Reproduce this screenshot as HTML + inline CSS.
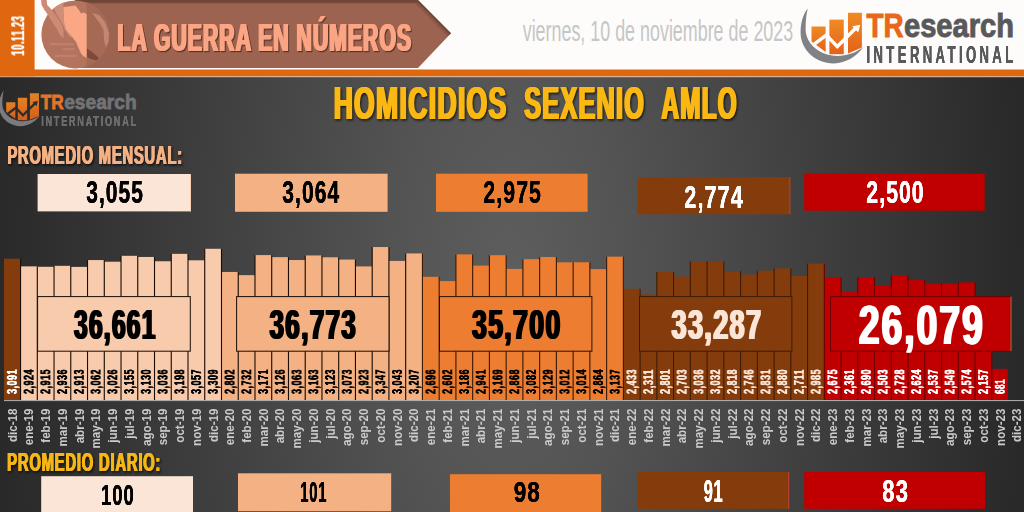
<!DOCTYPE html>
<html lang="es"><head><meta charset="utf-8"><title>Homicidios Sexenio AMLO</title>
<style>
html,body{margin:0;padding:0;background:#2b2b2b;}
body{width:1024px;height:512px;overflow:hidden;font-family:"Liberation Sans",sans-serif;}
svg{display:block}
</style></head><body>
<svg width="1024" height="512" viewBox="0 0 1024 512">
<defs>
<radialGradient id="bg" gradientUnits="userSpaceOnUse" cx="510" cy="290" r="560" gradientTransform="translate(510 290) scale(1 2.2) translate(-510 -290)">
<stop offset="0" stop-color="#5e5e5f"/><stop offset="0.2" stop-color="#545454"/><stop offset="0.55" stop-color="#3f3f3f"/><stop offset="0.92" stop-color="#292929"/><stop offset="1" stop-color="#242424"/>
</radialGradient>
<linearGradient id="og" x1="0" y1="0" x2="0" y2="1"><stop offset="0" stop-color="#f08a24"/><stop offset="1" stop-color="#e4611a"/></linearGradient>
<linearGradient id="bsh" x1="0" y1="0" x2="0" y2="1"><stop offset="0" stop-color="#5e3a2e"/><stop offset="1" stop-color="#5e3a2e" stop-opacity="0"/></linearGradient>
<clipPath id="cc"><circle cx="75.4" cy="34.4" r="34"/></clipPath>
<g id="logo">
<path d="M807.75 8.4 C802.5 15 800.6 24 800.6 32.75 C800.6 49.7 815.45 63.4 833.75 63.4 C846 63.4 857 56.5 863.1 47.1 C856 53 847 55.9 837.5 55.9 C819.9 55.9 805.6 43.85 805.6 29 C805.6 21 806.3 14 807.75 8.4 Z" fill="#808285"/>
<path d="M811.5 26.5 H825.6 V52 L811.5 41.5 Z" fill="url(#og)"/>
<path d="M829.4 19.6 H843.75 V54.2 H829.4 Z" fill="url(#og)"/>
<path d="M848 12.75 H861.9 V47.5 L848 53.6 Z" fill="url(#og)"/>
<path d="M812.6 45.4 L826.3 35 L837.3 46.6 L856.2 27.8" fill="none" stroke="currentColor" stroke-width="3.5" stroke-linejoin="miter"/>
<path d="M852.2 26.2 L860.2 24.8 L858.2 32.6 Z" fill="currentColor"/>
</g>
<filter id="f0" x="-10%" y="-30%" width="120%" height="170%" color-interpolation-filters="sRGB"><feOffset in="SourceGraphic" dx="-0.55" result="a"/><feOffset in="SourceGraphic" dx="0.55" result="b"/><feMerge result="m"><feMergeNode in="a"/><feMergeNode in="b"/><feMergeNode in="SourceGraphic"/></feMerge><feDropShadow in="m" dx="1" dy="1.2" stdDeviation="0.6" flood-color="#4a2a20" flood-opacity="0.8"/></filter>
<filter id="f1" x="-10%" y="-30%" width="120%" height="170%" color-interpolation-filters="sRGB"><feOffset in="SourceGraphic" dx="-0.45" result="a"/><feOffset in="SourceGraphic" dx="0.45" result="b"/><feMerge result="m"><feMergeNode in="a"/><feMergeNode in="b"/><feMergeNode in="SourceGraphic"/></feMerge></filter>
<filter id="f2" x="-10%" y="-30%" width="120%" height="170%" color-interpolation-filters="sRGB"><feOffset in="SourceGraphic" dx="-0.25" result="a"/><feOffset in="SourceGraphic" dx="0.25" result="b"/><feMerge result="m"><feMergeNode in="a"/><feMergeNode in="b"/><feMergeNode in="SourceGraphic"/></feMerge></filter>
<filter id="f3" x="-10%" y="-30%" width="120%" height="170%" color-interpolation-filters="sRGB"><feOffset in="SourceGraphic" dx="-0.2" result="a"/><feOffset in="SourceGraphic" dx="0.2" result="b"/><feMerge result="m"><feMergeNode in="a"/><feMergeNode in="b"/><feMergeNode in="SourceGraphic"/></feMerge></filter>
<filter id="f4" x="-10%" y="-30%" width="120%" height="170%" color-interpolation-filters="sRGB"><feOffset in="SourceGraphic" dx="-1.0" result="a"/><feOffset in="SourceGraphic" dx="1.0" result="b"/><feMerge result="m"><feMergeNode in="a"/><feMergeNode in="b"/><feMergeNode in="SourceGraphic"/></feMerge><feDropShadow in="m" dx="1" dy="1.5" stdDeviation="0.9" flood-color="#000" flood-opacity="0.7"/></filter>
<filter id="f5" x="-10%" y="-30%" width="120%" height="170%" color-interpolation-filters="sRGB"><feOffset in="SourceGraphic" dx="-0.5" result="a"/><feOffset in="SourceGraphic" dx="0.5" result="b"/><feMerge result="m"><feMergeNode in="a"/><feMergeNode in="b"/><feMergeNode in="SourceGraphic"/></feMerge><feDropShadow in="m" dx="1" dy="1.5" stdDeviation="0.9" flood-color="#000" flood-opacity="0.7"/></filter>
<filter id="f6" x="-10%" y="-30%" width="120%" height="170%" color-interpolation-filters="sRGB"><feOffset in="SourceGraphic" dx="-0.35" result="a"/><feOffset in="SourceGraphic" dx="0.35" result="b"/><feMerge result="m"><feMergeNode in="a"/><feMergeNode in="b"/><feMergeNode in="SourceGraphic"/></feMerge></filter>
<filter id="f7" x="-10%" y="-30%" width="120%" height="170%" color-interpolation-filters="sRGB"><feOffset in="SourceGraphic" dx="-0.64" result="a"/><feOffset in="SourceGraphic" dx="0.64" result="b"/><feMerge result="m"><feMergeNode in="a"/><feMergeNode in="b"/><feMergeNode in="SourceGraphic"/></feMerge></filter>
<filter id="f8" x="-10%" y="-30%" width="120%" height="170%" color-interpolation-filters="sRGB"><feOffset in="SourceGraphic" dx="-0.66" result="a"/><feOffset in="SourceGraphic" dx="0.66" result="b"/><feMerge result="m"><feMergeNode in="a"/><feMergeNode in="b"/><feMergeNode in="SourceGraphic"/></feMerge></filter>
<filter id="f9" x="-10%" y="-30%" width="120%" height="170%" color-interpolation-filters="sRGB"><feOffset in="SourceGraphic" dx="-0.85" result="a"/><feOffset in="SourceGraphic" dx="0.85" result="b"/><feMerge result="m"><feMergeNode in="a"/><feMergeNode in="b"/><feMergeNode in="SourceGraphic"/></feMerge></filter>
<filter id="f10" x="-10%" y="-30%" width="120%" height="170%" color-interpolation-filters="sRGB"><feOffset in="SourceGraphic" dx="-0.47" result="a"/><feOffset in="SourceGraphic" dx="0.47" result="b"/><feMerge result="m"><feMergeNode in="a"/><feMergeNode in="b"/><feMergeNode in="SourceGraphic"/></feMerge></filter>
<filter id="f11" x="-10%" y="-30%" width="120%" height="170%" color-interpolation-filters="sRGB"><feOffset in="SourceGraphic" dx="-0.48" result="a"/><feOffset in="SourceGraphic" dx="0.48" result="b"/><feMerge result="m"><feMergeNode in="a"/><feMergeNode in="b"/><feMergeNode in="SourceGraphic"/></feMerge></filter>
<filter id="f12" x="-10%" y="-30%" width="120%" height="170%" color-interpolation-filters="sRGB"><feOffset in="SourceGraphic" dx="-0.49" result="a"/><feOffset in="SourceGraphic" dx="0.49" result="b"/><feMerge result="m"><feMergeNode in="a"/><feMergeNode in="b"/><feMergeNode in="SourceGraphic"/></feMerge></filter>
<filter id="f13" x="-10%" y="-30%" width="120%" height="170%" color-interpolation-filters="sRGB"><feOffset in="SourceGraphic" dx="-0.46" result="a"/><feOffset in="SourceGraphic" dx="0.46" result="b"/><feMerge result="m"><feMergeNode in="a"/><feMergeNode in="b"/><feMergeNode in="SourceGraphic"/></feMerge></filter>
</defs>
<rect x="0" y="0" width="1024" height="512" fill="url(#bg)"/>
<rect x="0" y="0" width="1024" height="70" fill="#fdfcfb"/>
<rect x="0" y="69.5" width="1024" height="6.8" fill="#df6710"/>
<rect x="0" y="76.2" width="1024" height="1" fill="#f3c9a6"/>
<rect x="0" y="0" width="34.6" height="76.3" fill="#df6710"/>
<path d="M75 0 H418 L451 33.3 L418 68 H75 Z" fill="#9c6350"/>
<path d="M75 0 H418 L451 33.3 L449.6 34.8 L417.2 1.9 H75 Z" fill="#6a4335" opacity="0.9"/>
<rect x="75" y="1.8" width="342.6" height="2.6" fill="url(#bsh)" opacity="0.7"/>
<path d="M417.2 1.9 L449.6 34.8 L447.6 36.6 L416 4.4 Z" fill="#6a4335" opacity="0.35"/>
<circle cx="75.4" cy="34.4" r="34" fill="#b4735d"/>
<g clip-path="url(#cc)">
<path d="M86.6 0 H112 V70 H86.6 Z" fill="#a26752" opacity="0.75"/>
<path d="M92 13 L99 15 L105 22 L109 33 L108.5 42 L105.8 47 L104 40 L103.5 30 L99 22 Z" fill="#c58671"/>
<path d="M50 43 H74 V45.3 H50 Z M62.7 48 H75 V50.2 H62.7 Z M55 54.8 H76.8 V57 H55 Z" fill="#bf806b"/>
<path d="M54 3 L63.4 1.5 L63.6 15 L64 20 L65.5 25 L68 31 L72 37 L70 37 L65 30 L63 25 L60 20 L57 15 L54.5 10 L52 5 Z" fill="#cf8e77"/>
<path d="M63.4 7 L70 6.2 L75.4 5.6 L78.5 9.5 L81 13.4 L83.5 12.6 L86.6 14 V57.7 L83.5 56.3 L81 53.4 L78.3 47.5 L76 42 L71 35.5 L66 29.5 L64 22 Z" fill="#f9a785"/>
<path d="M87 48.5 L92 52 L99 58 L96.5 60.6 L91 59 L87 57.2 Z" fill="#7d4938"/>
<rect x="82" y="0" width="40" height="1.8" fill="#6a4335" opacity="0.8"/>
</g>
<path d="M41 -1 L46.5 -1 L47.2 5 L52 10 L55.7 15 L59 20 L62 25 L63.5 30 L63.6 38 L60 35 L57.5 30 L54.3 25 L51 20 L48 15 L44.5 10 L41.6 5 Z" fill="#cd8b75"/>
<text x="117.53" y="51.40" font-family="Liberation Sans, sans-serif" font-weight="bold" font-size="39.14" letter-spacing="1.96" textLength="294.62" lengthAdjust="spacingAndGlyphs" fill="#fba584" filter="url(#f0)">LA GUERRA EN NÚMEROS</text>
<g transform="translate(24.2 55.6) rotate(-90)"><text x="0.05" y="0.00" font-family="Liberation Sans, sans-serif" font-weight="bold" font-size="18.86" letter-spacing="0.94" textLength="39.81" lengthAdjust="spacingAndGlyphs" fill="#fff" filter="url(#f1)">10.11.23</text></g>
<text x="522.70" y="40.80" font-family="Liberation Sans, sans-serif" font-weight="normal" font-size="29.14" textLength="270.50" lengthAdjust="spacingAndGlyphs" fill="#c6c6c6">viernes, 10 de noviembre de 2023</text>
<use href="#logo" color="#fff"/>
<text x="866.50" y="36.60" font-family="Liberation Sans, sans-serif" font-weight="bold" font-size="32.29" textLength="37.10" lengthAdjust="spacingAndGlyphs" fill="#e8671c" stroke="#e8671c" stroke-width="0.9">TR</text>
<text x="904.00" y="36.60" font-family="Liberation Sans, sans-serif" font-weight="bold" font-size="32.29" textLength="110.00" lengthAdjust="spacingAndGlyphs" fill="#59595b" stroke="#59595b" stroke-width="0.9">esearch</text>
<text transform="translate(866.45 63.40) scale(0.56 1)" font-family="Liberation Sans, sans-serif" font-weight="bold" font-size="23.43" letter-spacing="6.06" fill="#59595b" filter="url(#f2)">INTERNATIONAL</text>
<g transform="translate(-521.3 85.0) scale(0.65)" opacity="0.93"><use href="#logo" color="#2e2e2e"/></g>
<text x="40.80" y="109.10" font-family="Liberation Sans, sans-serif" font-weight="bold" font-size="21.00" textLength="23.00" lengthAdjust="spacingAndGlyphs" fill="#e3752a" stroke="#e3752a" stroke-width="0.8">TR</text>
<text x="64.20" y="109.10" font-family="Liberation Sans, sans-serif" font-weight="bold" font-size="21.00" textLength="72.40" lengthAdjust="spacingAndGlyphs" fill="#727375" stroke="#727375" stroke-width="0.8">esearch</text>
<text transform="translate(41.20 126.40) scale(0.62 1)" font-family="Liberation Sans, sans-serif" font-weight="bold" font-size="14.71" letter-spacing="2.85" fill="#6c6d6f" filter="url(#f3)">INTERNATIONAL</text>
<text x="333.64" y="119.00" font-family="Liberation Sans, sans-serif" font-weight="bold" font-size="45.71" letter-spacing="2.29" textLength="173.98" lengthAdjust="spacingAndGlyphs" fill="#fbb813" filter="url(#f4)">HOMICIDIOS</text>
<text x="524.24" y="119.00" font-family="Liberation Sans, sans-serif" font-weight="bold" font-size="45.71" letter-spacing="2.29" textLength="120.98" lengthAdjust="spacingAndGlyphs" fill="#fbb813" filter="url(#f4)">SEXENIO</text>
<text x="661.44" y="119.00" font-family="Liberation Sans, sans-serif" font-weight="bold" font-size="45.71" letter-spacing="2.29" textLength="76.38" lengthAdjust="spacingAndGlyphs" fill="#fbb813" filter="url(#f4)">AMLO</text>
<text x="6.94" y="163.80" font-family="Liberation Sans, sans-serif" font-weight="bold" font-size="26.57" letter-spacing="1.33" textLength="175.45" lengthAdjust="spacingAndGlyphs" fill="#f4b183" filter="url(#f5)">PROMEDIO MENSUAL:</text>
<text x="6.75" y="471.40" font-family="Liberation Sans, sans-serif" font-weight="bold" font-size="26.29" letter-spacing="1.31" textLength="154.03" lengthAdjust="spacingAndGlyphs" fill="#f5b618" filter="url(#f5)">PROMEDIO DIARIO:</text>
<rect x="4.00" y="258.74" width="16.55" height="141.26" fill="#843c0c"/>
<rect x="20.55" y="266.37" width="16.75" height="133.63" fill="#f8cbad"/>
<rect x="37.29" y="266.78" width="16.74" height="133.22" fill="#f8cbad"/>
<rect x="54.03" y="265.82" width="16.75" height="134.18" fill="#f8cbad"/>
<rect x="70.78" y="266.88" width="16.75" height="133.12" fill="#f8cbad"/>
<rect x="87.53" y="260.07" width="16.75" height="139.93" fill="#f8cbad"/>
<rect x="104.27" y="261.71" width="16.75" height="138.29" fill="#f8cbad"/>
<rect x="121.02" y="255.82" width="16.74" height="144.18" fill="#f8cbad"/>
<rect x="137.76" y="256.96" width="16.75" height="143.04" fill="#f8cbad"/>
<rect x="154.51" y="261.25" width="16.75" height="138.75" fill="#f8cbad"/>
<rect x="171.25" y="253.85" width="16.75" height="146.15" fill="#f8cbad"/>
<rect x="188.00" y="260.30" width="16.75" height="139.70" fill="#f8cbad"/>
<rect x="204.74" y="248.78" width="16.75" height="151.22" fill="#f8cbad"/>
<rect x="221.49" y="271.95" width="16.75" height="128.05" fill="#f4b183"/>
<rect x="238.23" y="275.15" width="16.75" height="124.85" fill="#f4b183"/>
<rect x="254.98" y="255.09" width="16.75" height="144.91" fill="#f4b183"/>
<rect x="271.72" y="257.14" width="16.75" height="142.86" fill="#f4b183"/>
<rect x="288.47" y="260.02" width="16.75" height="139.98" fill="#f4b183"/>
<rect x="305.21" y="255.45" width="16.75" height="144.55" fill="#f4b183"/>
<rect x="321.96" y="257.28" width="16.75" height="142.72" fill="#f4b183"/>
<rect x="338.70" y="259.56" width="16.75" height="140.44" fill="#f4b183"/>
<rect x="355.45" y="266.42" width="16.75" height="133.58" fill="#f4b183"/>
<rect x="372.19" y="247.04" width="16.75" height="152.96" fill="#f4b183"/>
<rect x="388.94" y="260.93" width="16.75" height="139.07" fill="#f4b183"/>
<rect x="405.68" y="253.44" width="16.75" height="146.56" fill="#f4b183"/>
<rect x="422.43" y="276.79" width="16.75" height="123.21" fill="#ed7d31"/>
<rect x="439.17" y="281.09" width="16.75" height="118.91" fill="#ed7d31"/>
<rect x="455.92" y="254.40" width="16.75" height="145.60" fill="#ed7d31"/>
<rect x="472.66" y="265.60" width="16.75" height="134.40" fill="#ed7d31"/>
<rect x="489.41" y="255.18" width="16.75" height="144.82" fill="#ed7d31"/>
<rect x="506.15" y="268.93" width="16.74" height="131.07" fill="#ed7d31"/>
<rect x="522.89" y="259.15" width="16.75" height="140.85" fill="#ed7d31"/>
<rect x="539.64" y="257.00" width="16.75" height="143.00" fill="#ed7d31"/>
<rect x="556.38" y="262.35" width="16.75" height="137.65" fill="#ed7d31"/>
<rect x="573.13" y="262.26" width="16.75" height="137.74" fill="#ed7d31"/>
<rect x="589.88" y="269.12" width="16.75" height="130.88" fill="#ed7d31"/>
<rect x="606.62" y="256.64" width="16.75" height="143.36" fill="#ed7d31"/>
<rect x="623.37" y="288.81" width="16.75" height="111.19" fill="#843c0c"/>
<rect x="640.11" y="294.39" width="16.75" height="105.61" fill="#843c0c"/>
<rect x="656.86" y="271.99" width="16.75" height="128.01" fill="#843c0c"/>
<rect x="673.60" y="276.47" width="16.75" height="123.53" fill="#843c0c"/>
<rect x="690.35" y="261.25" width="16.75" height="138.75" fill="#843c0c"/>
<rect x="707.09" y="261.44" width="16.75" height="138.56" fill="#843c0c"/>
<rect x="723.84" y="271.22" width="16.75" height="128.78" fill="#843c0c"/>
<rect x="740.58" y="274.51" width="16.75" height="125.49" fill="#843c0c"/>
<rect x="757.33" y="270.62" width="16.75" height="129.38" fill="#843c0c"/>
<rect x="774.07" y="268.38" width="16.75" height="131.62" fill="#843c0c"/>
<rect x="790.82" y="276.11" width="16.75" height="123.89" fill="#843c0c"/>
<rect x="807.56" y="263.59" width="16.75" height="136.41" fill="#843c0c"/>
<rect x="824.30" y="277.75" width="16.75" height="122.25" fill="#c00000"/>
<rect x="841.05" y="292.10" width="16.75" height="107.90" fill="#c00000"/>
<rect x="857.79" y="277.07" width="16.75" height="122.93" fill="#c00000"/>
<rect x="874.54" y="285.61" width="16.75" height="114.39" fill="#c00000"/>
<rect x="891.28" y="275.33" width="16.75" height="124.67" fill="#c00000"/>
<rect x="908.03" y="280.08" width="16.75" height="119.92" fill="#c00000"/>
<rect x="924.77" y="284.06" width="16.75" height="115.94" fill="#c00000"/>
<rect x="941.52" y="283.51" width="16.75" height="116.49" fill="#c00000"/>
<rect x="958.26" y="282.37" width="16.75" height="117.63" fill="#c00000"/>
<rect x="975.01" y="301.43" width="16.75" height="98.57" fill="#c00000"/>
<rect x="991.75" y="368.88" width="16.04" height="31.12" fill="#c00000"/>
<rect x="20.00" y="258.74" width="1.1" height="141.26" fill="#1a0d05"/>
<rect x="36.74" y="266.37" width="1.1" height="133.63" fill="#1a0d05"/>
<rect x="53.48" y="265.82" width="1.1" height="134.18" fill="#1a0d05"/>
<rect x="70.23" y="265.82" width="1.1" height="134.18" fill="#1a0d05"/>
<rect x="86.98" y="260.07" width="1.1" height="139.93" fill="#1a0d05"/>
<rect x="103.72" y="260.07" width="1.1" height="139.93" fill="#1a0d05"/>
<rect x="120.47" y="255.82" width="1.1" height="144.18" fill="#1a0d05"/>
<rect x="137.21" y="255.82" width="1.1" height="144.18" fill="#1a0d05"/>
<rect x="153.96" y="256.96" width="1.1" height="143.04" fill="#1a0d05"/>
<rect x="170.70" y="253.85" width="1.1" height="146.15" fill="#1a0d05"/>
<rect x="187.45" y="253.85" width="1.1" height="146.15" fill="#1a0d05"/>
<rect x="204.19" y="248.78" width="1.1" height="151.22" fill="#1a0d05"/>
<rect x="220.94" y="248.78" width="1.1" height="151.22" fill="#1a0d05"/>
<rect x="237.68" y="271.95" width="1.1" height="128.05" fill="#1a0d05"/>
<rect x="254.43" y="255.09" width="1.1" height="144.91" fill="#1a0d05"/>
<rect x="271.17" y="255.09" width="1.1" height="144.91" fill="#1a0d05"/>
<rect x="287.92" y="257.14" width="1.1" height="142.86" fill="#1a0d05"/>
<rect x="304.66" y="255.45" width="1.1" height="144.55" fill="#1a0d05"/>
<rect x="321.41" y="255.45" width="1.1" height="144.55" fill="#1a0d05"/>
<rect x="338.15" y="257.28" width="1.1" height="142.72" fill="#1a0d05"/>
<rect x="354.90" y="259.56" width="1.1" height="140.44" fill="#1a0d05"/>
<rect x="371.64" y="247.04" width="1.1" height="152.96" fill="#1a0d05"/>
<rect x="388.39" y="247.04" width="1.1" height="152.96" fill="#1a0d05"/>
<rect x="405.13" y="253.44" width="1.1" height="146.56" fill="#1a0d05"/>
<rect x="421.88" y="253.44" width="1.1" height="146.56" fill="#3a1a05"/>
<rect x="438.62" y="276.79" width="1.1" height="123.21" fill="#3a1a05"/>
<rect x="455.37" y="254.40" width="1.1" height="145.60" fill="#3a1a05"/>
<rect x="472.11" y="254.40" width="1.1" height="145.60" fill="#3a1a05"/>
<rect x="488.86" y="255.18" width="1.1" height="144.82" fill="#3a1a05"/>
<rect x="505.60" y="255.18" width="1.1" height="144.82" fill="#3a1a05"/>
<rect x="522.35" y="259.15" width="1.1" height="140.85" fill="#3a1a05"/>
<rect x="539.09" y="257.00" width="1.1" height="143.00" fill="#3a1a05"/>
<rect x="555.84" y="257.00" width="1.1" height="143.00" fill="#3a1a05"/>
<rect x="572.58" y="262.26" width="1.1" height="137.74" fill="#3a1a05"/>
<rect x="589.33" y="262.26" width="1.1" height="137.74" fill="#3a1a05"/>
<rect x="606.07" y="256.64" width="1.1" height="143.36" fill="#3a1a05"/>
<rect x="622.82" y="256.64" width="1.1" height="143.36" fill="#3f1c05"/>
<rect x="639.56" y="288.81" width="1.1" height="111.19" fill="#3f1c05"/>
<rect x="656.31" y="271.99" width="1.1" height="128.01" fill="#3f1c05"/>
<rect x="673.05" y="271.99" width="1.1" height="128.01" fill="#3f1c05"/>
<rect x="689.80" y="261.25" width="1.1" height="138.75" fill="#3f1c05"/>
<rect x="706.54" y="261.25" width="1.1" height="138.75" fill="#3f1c05"/>
<rect x="723.29" y="261.44" width="1.1" height="138.56" fill="#3f1c05"/>
<rect x="740.03" y="271.22" width="1.1" height="128.78" fill="#3f1c05"/>
<rect x="756.78" y="270.62" width="1.1" height="129.38" fill="#3f1c05"/>
<rect x="773.52" y="268.38" width="1.1" height="131.62" fill="#3f1c05"/>
<rect x="790.27" y="268.38" width="1.1" height="131.62" fill="#3f1c05"/>
<rect x="807.01" y="263.59" width="1.1" height="136.41" fill="#3f1c05"/>
<rect x="823.75" y="263.59" width="1.1" height="136.41" fill="#6a0000"/>
<rect x="840.50" y="277.75" width="1.1" height="122.25" fill="#6a0000"/>
<rect x="857.25" y="277.07" width="1.1" height="122.93" fill="#6a0000"/>
<rect x="873.99" y="277.07" width="1.1" height="122.93" fill="#6a0000"/>
<rect x="890.74" y="275.33" width="1.1" height="124.67" fill="#6a0000"/>
<rect x="907.48" y="275.33" width="1.1" height="124.67" fill="#6a0000"/>
<rect x="924.23" y="280.08" width="1.1" height="119.92" fill="#6a0000"/>
<rect x="940.97" y="283.51" width="1.1" height="116.49" fill="#6a0000"/>
<rect x="957.72" y="282.37" width="1.1" height="117.63" fill="#6a0000"/>
<rect x="974.46" y="282.37" width="1.1" height="117.63" fill="#6a0000"/>
<rect x="991.21" y="301.43" width="1.1" height="98.57" fill="#6a0000"/>
<rect x="4" y="400" width="1020" height="1.1" fill="#bdbdbd" opacity="0.85"/>
<g transform="translate(16.87 394.0) rotate(-90)"><text x="0.06" y="0.00" font-family="Liberation Sans, sans-serif" font-weight="bold" font-size="13.71" letter-spacing="0.69" textLength="24.85" lengthAdjust="spacingAndGlyphs" fill="#fff" filter="url(#f6)">3,091</text></g>
<g transform="translate(33.62 394.0) rotate(-90)"><text x="0.06" y="0.00" font-family="Liberation Sans, sans-serif" font-weight="bold" font-size="13.71" letter-spacing="0.69" textLength="24.85" lengthAdjust="spacingAndGlyphs" fill="#000" filter="url(#f6)">2,924</text></g>
<g transform="translate(50.36 394.0) rotate(-90)"><text x="0.06" y="0.00" font-family="Liberation Sans, sans-serif" font-weight="bold" font-size="13.71" letter-spacing="0.69" textLength="24.85" lengthAdjust="spacingAndGlyphs" fill="#000" filter="url(#f6)">2,915</text></g>
<g transform="translate(67.11 394.0) rotate(-90)"><text x="0.06" y="0.00" font-family="Liberation Sans, sans-serif" font-weight="bold" font-size="13.71" letter-spacing="0.69" textLength="24.85" lengthAdjust="spacingAndGlyphs" fill="#000" filter="url(#f6)">2,936</text></g>
<g transform="translate(83.85 394.0) rotate(-90)"><text x="0.06" y="0.00" font-family="Liberation Sans, sans-serif" font-weight="bold" font-size="13.71" letter-spacing="0.69" textLength="24.85" lengthAdjust="spacingAndGlyphs" fill="#000" filter="url(#f6)">2,913</text></g>
<g transform="translate(100.60 394.0) rotate(-90)"><text x="0.06" y="0.00" font-family="Liberation Sans, sans-serif" font-weight="bold" font-size="13.71" letter-spacing="0.69" textLength="24.85" lengthAdjust="spacingAndGlyphs" fill="#000" filter="url(#f6)">3,062</text></g>
<g transform="translate(117.34 394.0) rotate(-90)"><text x="0.06" y="0.00" font-family="Liberation Sans, sans-serif" font-weight="bold" font-size="13.71" letter-spacing="0.69" textLength="24.85" lengthAdjust="spacingAndGlyphs" fill="#000" filter="url(#f6)">3,026</text></g>
<g transform="translate(134.09 394.0) rotate(-90)"><text x="0.06" y="0.00" font-family="Liberation Sans, sans-serif" font-weight="bold" font-size="13.71" letter-spacing="0.69" textLength="24.85" lengthAdjust="spacingAndGlyphs" fill="#000" filter="url(#f6)">3,155</text></g>
<g transform="translate(150.83 394.0) rotate(-90)"><text x="0.06" y="0.00" font-family="Liberation Sans, sans-serif" font-weight="bold" font-size="13.71" letter-spacing="0.69" textLength="24.85" lengthAdjust="spacingAndGlyphs" fill="#000" filter="url(#f6)">3,130</text></g>
<g transform="translate(167.58 394.0) rotate(-90)"><text x="0.06" y="0.00" font-family="Liberation Sans, sans-serif" font-weight="bold" font-size="13.71" letter-spacing="0.69" textLength="24.85" lengthAdjust="spacingAndGlyphs" fill="#000" filter="url(#f6)">3,036</text></g>
<g transform="translate(184.32 394.0) rotate(-90)"><text x="0.06" y="0.00" font-family="Liberation Sans, sans-serif" font-weight="bold" font-size="13.71" letter-spacing="0.69" textLength="24.85" lengthAdjust="spacingAndGlyphs" fill="#000" filter="url(#f6)">3,198</text></g>
<g transform="translate(201.07 394.0) rotate(-90)"><text x="0.06" y="0.00" font-family="Liberation Sans, sans-serif" font-weight="bold" font-size="13.71" letter-spacing="0.69" textLength="24.85" lengthAdjust="spacingAndGlyphs" fill="#000" filter="url(#f6)">3,057</text></g>
<g transform="translate(217.81 394.0) rotate(-90)"><text x="0.06" y="0.00" font-family="Liberation Sans, sans-serif" font-weight="bold" font-size="13.71" letter-spacing="0.69" textLength="24.85" lengthAdjust="spacingAndGlyphs" fill="#000" filter="url(#f6)">3,309</text></g>
<g transform="translate(234.56 394.0) rotate(-90)"><text x="0.06" y="0.00" font-family="Liberation Sans, sans-serif" font-weight="bold" font-size="13.71" letter-spacing="0.69" textLength="24.85" lengthAdjust="spacingAndGlyphs" fill="#000" filter="url(#f6)">2,802</text></g>
<g transform="translate(251.30 394.0) rotate(-90)"><text x="0.06" y="0.00" font-family="Liberation Sans, sans-serif" font-weight="bold" font-size="13.71" letter-spacing="0.69" textLength="24.85" lengthAdjust="spacingAndGlyphs" fill="#000" filter="url(#f6)">2,732</text></g>
<g transform="translate(268.05 394.0) rotate(-90)"><text x="0.06" y="0.00" font-family="Liberation Sans, sans-serif" font-weight="bold" font-size="13.71" letter-spacing="0.69" textLength="24.85" lengthAdjust="spacingAndGlyphs" fill="#000" filter="url(#f6)">3,171</text></g>
<g transform="translate(284.79 394.0) rotate(-90)"><text x="0.06" y="0.00" font-family="Liberation Sans, sans-serif" font-weight="bold" font-size="13.71" letter-spacing="0.69" textLength="24.85" lengthAdjust="spacingAndGlyphs" fill="#000" filter="url(#f6)">3,126</text></g>
<g transform="translate(301.54 394.0) rotate(-90)"><text x="0.06" y="0.00" font-family="Liberation Sans, sans-serif" font-weight="bold" font-size="13.71" letter-spacing="0.69" textLength="24.85" lengthAdjust="spacingAndGlyphs" fill="#000" filter="url(#f6)">3,063</text></g>
<g transform="translate(318.28 394.0) rotate(-90)"><text x="0.06" y="0.00" font-family="Liberation Sans, sans-serif" font-weight="bold" font-size="13.71" letter-spacing="0.69" textLength="24.85" lengthAdjust="spacingAndGlyphs" fill="#000" filter="url(#f6)">3,163</text></g>
<g transform="translate(335.03 394.0) rotate(-90)"><text x="0.06" y="0.00" font-family="Liberation Sans, sans-serif" font-weight="bold" font-size="13.71" letter-spacing="0.69" textLength="24.85" lengthAdjust="spacingAndGlyphs" fill="#000" filter="url(#f6)">3,123</text></g>
<g transform="translate(351.77 394.0) rotate(-90)"><text x="0.06" y="0.00" font-family="Liberation Sans, sans-serif" font-weight="bold" font-size="13.71" letter-spacing="0.69" textLength="24.85" lengthAdjust="spacingAndGlyphs" fill="#000" filter="url(#f6)">3,073</text></g>
<g transform="translate(368.52 394.0) rotate(-90)"><text x="0.06" y="0.00" font-family="Liberation Sans, sans-serif" font-weight="bold" font-size="13.71" letter-spacing="0.69" textLength="24.85" lengthAdjust="spacingAndGlyphs" fill="#000" filter="url(#f6)">2,923</text></g>
<g transform="translate(385.26 394.0) rotate(-90)"><text x="0.06" y="0.00" font-family="Liberation Sans, sans-serif" font-weight="bold" font-size="13.71" letter-spacing="0.69" textLength="24.85" lengthAdjust="spacingAndGlyphs" fill="#000" filter="url(#f6)">3,347</text></g>
<g transform="translate(402.01 394.0) rotate(-90)"><text x="0.06" y="0.00" font-family="Liberation Sans, sans-serif" font-weight="bold" font-size="13.71" letter-spacing="0.69" textLength="24.85" lengthAdjust="spacingAndGlyphs" fill="#000" filter="url(#f6)">3,043</text></g>
<g transform="translate(418.75 394.0) rotate(-90)"><text x="0.06" y="0.00" font-family="Liberation Sans, sans-serif" font-weight="bold" font-size="13.71" letter-spacing="0.69" textLength="24.85" lengthAdjust="spacingAndGlyphs" fill="#000" filter="url(#f6)">3,207</text></g>
<g transform="translate(435.50 394.0) rotate(-90)"><text x="0.06" y="0.00" font-family="Liberation Sans, sans-serif" font-weight="bold" font-size="13.71" letter-spacing="0.69" textLength="24.85" lengthAdjust="spacingAndGlyphs" fill="#000" filter="url(#f6)">2,696</text></g>
<g transform="translate(452.24 394.0) rotate(-90)"><text x="0.06" y="0.00" font-family="Liberation Sans, sans-serif" font-weight="bold" font-size="13.71" letter-spacing="0.69" textLength="24.85" lengthAdjust="spacingAndGlyphs" fill="#000" filter="url(#f6)">2,602</text></g>
<g transform="translate(468.99 394.0) rotate(-90)"><text x="0.06" y="0.00" font-family="Liberation Sans, sans-serif" font-weight="bold" font-size="13.71" letter-spacing="0.69" textLength="24.85" lengthAdjust="spacingAndGlyphs" fill="#000" filter="url(#f6)">3,186</text></g>
<g transform="translate(485.73 394.0) rotate(-90)"><text x="0.06" y="0.00" font-family="Liberation Sans, sans-serif" font-weight="bold" font-size="13.71" letter-spacing="0.69" textLength="24.85" lengthAdjust="spacingAndGlyphs" fill="#000" filter="url(#f6)">2,941</text></g>
<g transform="translate(502.48 394.0) rotate(-90)"><text x="0.06" y="0.00" font-family="Liberation Sans, sans-serif" font-weight="bold" font-size="13.71" letter-spacing="0.69" textLength="24.85" lengthAdjust="spacingAndGlyphs" fill="#000" filter="url(#f6)">3,169</text></g>
<g transform="translate(519.22 394.0) rotate(-90)"><text x="0.06" y="0.00" font-family="Liberation Sans, sans-serif" font-weight="bold" font-size="13.71" letter-spacing="0.69" textLength="24.85" lengthAdjust="spacingAndGlyphs" fill="#000" filter="url(#f6)">2,868</text></g>
<g transform="translate(535.97 394.0) rotate(-90)"><text x="0.06" y="0.00" font-family="Liberation Sans, sans-serif" font-weight="bold" font-size="13.71" letter-spacing="0.69" textLength="24.85" lengthAdjust="spacingAndGlyphs" fill="#000" filter="url(#f6)">3,082</text></g>
<g transform="translate(552.71 394.0) rotate(-90)"><text x="0.06" y="0.00" font-family="Liberation Sans, sans-serif" font-weight="bold" font-size="13.71" letter-spacing="0.69" textLength="24.85" lengthAdjust="spacingAndGlyphs" fill="#000" filter="url(#f6)">3,129</text></g>
<g transform="translate(569.46 394.0) rotate(-90)"><text x="0.06" y="0.00" font-family="Liberation Sans, sans-serif" font-weight="bold" font-size="13.71" letter-spacing="0.69" textLength="24.85" lengthAdjust="spacingAndGlyphs" fill="#000" filter="url(#f6)">3,012</text></g>
<g transform="translate(586.20 394.0) rotate(-90)"><text x="0.06" y="0.00" font-family="Liberation Sans, sans-serif" font-weight="bold" font-size="13.71" letter-spacing="0.69" textLength="24.85" lengthAdjust="spacingAndGlyphs" fill="#000" filter="url(#f6)">3,014</text></g>
<g transform="translate(602.95 394.0) rotate(-90)"><text x="0.06" y="0.00" font-family="Liberation Sans, sans-serif" font-weight="bold" font-size="13.71" letter-spacing="0.69" textLength="24.85" lengthAdjust="spacingAndGlyphs" fill="#000" filter="url(#f6)">2,864</text></g>
<g transform="translate(619.69 394.0) rotate(-90)"><text x="0.06" y="0.00" font-family="Liberation Sans, sans-serif" font-weight="bold" font-size="13.71" letter-spacing="0.69" textLength="24.85" lengthAdjust="spacingAndGlyphs" fill="#000" filter="url(#f6)">3,137</text></g>
<g transform="translate(636.44 394.0) rotate(-90)"><text x="0.06" y="0.00" font-family="Liberation Sans, sans-serif" font-weight="bold" font-size="13.71" letter-spacing="0.69" textLength="24.85" lengthAdjust="spacingAndGlyphs" fill="#fbe5d6" filter="url(#f6)">2,433</text></g>
<g transform="translate(653.18 394.0) rotate(-90)"><text x="0.06" y="0.00" font-family="Liberation Sans, sans-serif" font-weight="bold" font-size="13.71" letter-spacing="0.69" textLength="24.85" lengthAdjust="spacingAndGlyphs" fill="#fbe5d6" filter="url(#f6)">2,311</text></g>
<g transform="translate(669.93 394.0) rotate(-90)"><text x="0.06" y="0.00" font-family="Liberation Sans, sans-serif" font-weight="bold" font-size="13.71" letter-spacing="0.69" textLength="24.85" lengthAdjust="spacingAndGlyphs" fill="#fbe5d6" filter="url(#f6)">2,801</text></g>
<g transform="translate(686.67 394.0) rotate(-90)"><text x="0.06" y="0.00" font-family="Liberation Sans, sans-serif" font-weight="bold" font-size="13.71" letter-spacing="0.69" textLength="24.85" lengthAdjust="spacingAndGlyphs" fill="#fbe5d6" filter="url(#f6)">2,703</text></g>
<g transform="translate(703.42 394.0) rotate(-90)"><text x="0.06" y="0.00" font-family="Liberation Sans, sans-serif" font-weight="bold" font-size="13.71" letter-spacing="0.69" textLength="24.85" lengthAdjust="spacingAndGlyphs" fill="#fbe5d6" filter="url(#f6)">3,036</text></g>
<g transform="translate(720.16 394.0) rotate(-90)"><text x="0.06" y="0.00" font-family="Liberation Sans, sans-serif" font-weight="bold" font-size="13.71" letter-spacing="0.69" textLength="24.85" lengthAdjust="spacingAndGlyphs" fill="#fbe5d6" filter="url(#f6)">3,032</text></g>
<g transform="translate(736.91 394.0) rotate(-90)"><text x="0.06" y="0.00" font-family="Liberation Sans, sans-serif" font-weight="bold" font-size="13.71" letter-spacing="0.69" textLength="24.85" lengthAdjust="spacingAndGlyphs" fill="#fbe5d6" filter="url(#f6)">2,818</text></g>
<g transform="translate(753.65 394.0) rotate(-90)"><text x="0.06" y="0.00" font-family="Liberation Sans, sans-serif" font-weight="bold" font-size="13.71" letter-spacing="0.69" textLength="24.85" lengthAdjust="spacingAndGlyphs" fill="#fbe5d6" filter="url(#f6)">2,746</text></g>
<g transform="translate(770.40 394.0) rotate(-90)"><text x="0.06" y="0.00" font-family="Liberation Sans, sans-serif" font-weight="bold" font-size="13.71" letter-spacing="0.69" textLength="24.85" lengthAdjust="spacingAndGlyphs" fill="#fbe5d6" filter="url(#f6)">2,831</text></g>
<g transform="translate(787.14 394.0) rotate(-90)"><text x="0.06" y="0.00" font-family="Liberation Sans, sans-serif" font-weight="bold" font-size="13.71" letter-spacing="0.69" textLength="24.85" lengthAdjust="spacingAndGlyphs" fill="#fbe5d6" filter="url(#f6)">2,880</text></g>
<g transform="translate(803.89 394.0) rotate(-90)"><text x="0.06" y="0.00" font-family="Liberation Sans, sans-serif" font-weight="bold" font-size="13.71" letter-spacing="0.69" textLength="24.85" lengthAdjust="spacingAndGlyphs" fill="#fbe5d6" filter="url(#f6)">2,711</text></g>
<g transform="translate(820.63 394.0) rotate(-90)"><text x="0.06" y="0.00" font-family="Liberation Sans, sans-serif" font-weight="bold" font-size="13.71" letter-spacing="0.69" textLength="24.85" lengthAdjust="spacingAndGlyphs" fill="#fbe5d6" filter="url(#f6)">2,985</text></g>
<g transform="translate(837.38 394.0) rotate(-90)"><text x="0.06" y="0.00" font-family="Liberation Sans, sans-serif" font-weight="bold" font-size="13.71" letter-spacing="0.69" textLength="24.85" lengthAdjust="spacingAndGlyphs" fill="#fff" filter="url(#f6)">2,675</text></g>
<g transform="translate(854.12 394.0) rotate(-90)"><text x="0.06" y="0.00" font-family="Liberation Sans, sans-serif" font-weight="bold" font-size="13.71" letter-spacing="0.69" textLength="24.85" lengthAdjust="spacingAndGlyphs" fill="#fff" filter="url(#f6)">2,361</text></g>
<g transform="translate(870.87 394.0) rotate(-90)"><text x="0.06" y="0.00" font-family="Liberation Sans, sans-serif" font-weight="bold" font-size="13.71" letter-spacing="0.69" textLength="24.85" lengthAdjust="spacingAndGlyphs" fill="#fff" filter="url(#f6)">2,690</text></g>
<g transform="translate(887.61 394.0) rotate(-90)"><text x="0.06" y="0.00" font-family="Liberation Sans, sans-serif" font-weight="bold" font-size="13.71" letter-spacing="0.69" textLength="24.85" lengthAdjust="spacingAndGlyphs" fill="#fff" filter="url(#f6)">2,503</text></g>
<g transform="translate(904.36 394.0) rotate(-90)"><text x="0.06" y="0.00" font-family="Liberation Sans, sans-serif" font-weight="bold" font-size="13.71" letter-spacing="0.69" textLength="24.85" lengthAdjust="spacingAndGlyphs" fill="#fff" filter="url(#f6)">2,728</text></g>
<g transform="translate(921.10 394.0) rotate(-90)"><text x="0.06" y="0.00" font-family="Liberation Sans, sans-serif" font-weight="bold" font-size="13.71" letter-spacing="0.69" textLength="24.85" lengthAdjust="spacingAndGlyphs" fill="#fff" filter="url(#f6)">2,624</text></g>
<g transform="translate(937.85 394.0) rotate(-90)"><text x="0.06" y="0.00" font-family="Liberation Sans, sans-serif" font-weight="bold" font-size="13.71" letter-spacing="0.69" textLength="24.85" lengthAdjust="spacingAndGlyphs" fill="#fff" filter="url(#f6)">2,537</text></g>
<g transform="translate(954.59 394.0) rotate(-90)"><text x="0.06" y="0.00" font-family="Liberation Sans, sans-serif" font-weight="bold" font-size="13.71" letter-spacing="0.69" textLength="24.85" lengthAdjust="spacingAndGlyphs" fill="#fff" filter="url(#f6)">2,549</text></g>
<g transform="translate(971.34 394.0) rotate(-90)"><text x="0.06" y="0.00" font-family="Liberation Sans, sans-serif" font-weight="bold" font-size="13.71" letter-spacing="0.69" textLength="24.85" lengthAdjust="spacingAndGlyphs" fill="#fff" filter="url(#f6)">2,574</text></g>
<g transform="translate(988.08 394.0) rotate(-90)"><text x="0.06" y="0.00" font-family="Liberation Sans, sans-serif" font-weight="bold" font-size="13.71" letter-spacing="0.69" textLength="24.85" lengthAdjust="spacingAndGlyphs" fill="#fff" filter="url(#f6)">2,157</text></g>
<g transform="translate(1004.83 394.0) rotate(-90)"><text x="0.06" y="0.00" font-family="Liberation Sans, sans-serif" font-weight="bold" font-size="13.71" letter-spacing="0.69" textLength="14.85" lengthAdjust="spacingAndGlyphs" fill="#fff" filter="url(#f6)">681</text></g>
<g font-family="Liberation Sans, sans-serif" font-weight="bold" font-size="12.2" fill="#d0d0d0" text-anchor="end" opacity="0.97">
<text transform="translate(16.57 408.6) rotate(-90) scale(0.95 1)">dic-18</text>
<text transform="translate(33.32 408.6) rotate(-90) scale(0.95 1)">ene-19</text>
<text transform="translate(50.06 408.6) rotate(-90) scale(0.95 1)">feb-19</text>
<text transform="translate(66.81 408.6) rotate(-90) scale(0.95 1)">mar-19</text>
<text transform="translate(83.55 408.6) rotate(-90) scale(0.95 1)">abr-19</text>
<text transform="translate(100.30 408.6) rotate(-90) scale(0.95 1)">may-19</text>
<text transform="translate(117.04 408.6) rotate(-90) scale(0.95 1)">jun-19</text>
<text transform="translate(133.79 408.6) rotate(-90) scale(0.95 1)">jul-19</text>
<text transform="translate(150.53 408.6) rotate(-90) scale(0.95 1)">ago-19</text>
<text transform="translate(167.28 408.6) rotate(-90) scale(0.95 1)">sep-19</text>
<text transform="translate(184.02 408.6) rotate(-90) scale(0.95 1)">oct-19</text>
<text transform="translate(200.77 408.6) rotate(-90) scale(0.95 1)">nov-19</text>
<text transform="translate(217.51 408.6) rotate(-90) scale(0.95 1)">dic-19</text>
<text transform="translate(234.26 408.6) rotate(-90) scale(0.95 1)">ene-20</text>
<text transform="translate(251.00 408.6) rotate(-90) scale(0.95 1)">feb-20</text>
<text transform="translate(267.75 408.6) rotate(-90) scale(0.95 1)">mar-20</text>
<text transform="translate(284.49 408.6) rotate(-90) scale(0.95 1)">abr-20</text>
<text transform="translate(301.24 408.6) rotate(-90) scale(0.95 1)">may-20</text>
<text transform="translate(317.98 408.6) rotate(-90) scale(0.95 1)">jun-20</text>
<text transform="translate(334.73 408.6) rotate(-90) scale(0.95 1)">jul-20</text>
<text transform="translate(351.47 408.6) rotate(-90) scale(0.95 1)">ago-20</text>
<text transform="translate(368.22 408.6) rotate(-90) scale(0.95 1)">sep-20</text>
<text transform="translate(384.96 408.6) rotate(-90) scale(0.95 1)">oct-20</text>
<text transform="translate(401.71 408.6) rotate(-90) scale(0.95 1)">nov-20</text>
<text transform="translate(418.45 408.6) rotate(-90) scale(0.95 1)">dic-20</text>
<text transform="translate(435.20 408.6) rotate(-90) scale(0.95 1)">ene-21</text>
<text transform="translate(451.94 408.6) rotate(-90) scale(0.95 1)">feb-21</text>
<text transform="translate(468.69 408.6) rotate(-90) scale(0.95 1)">mar-21</text>
<text transform="translate(485.43 408.6) rotate(-90) scale(0.95 1)">abr-21</text>
<text transform="translate(502.18 408.6) rotate(-90) scale(0.95 1)">may-21</text>
<text transform="translate(518.92 408.6) rotate(-90) scale(0.95 1)">jun-21</text>
<text transform="translate(535.67 408.6) rotate(-90) scale(0.95 1)">jul-21</text>
<text transform="translate(552.41 408.6) rotate(-90) scale(0.95 1)">ago-21</text>
<text transform="translate(569.16 408.6) rotate(-90) scale(0.95 1)">sep-21</text>
<text transform="translate(585.90 408.6) rotate(-90) scale(0.95 1)">oct-21</text>
<text transform="translate(602.65 408.6) rotate(-90) scale(0.95 1)">nov-21</text>
<text transform="translate(619.39 408.6) rotate(-90) scale(0.95 1)">dic-21</text>
<text transform="translate(636.14 408.6) rotate(-90) scale(0.95 1)">ene-22</text>
<text transform="translate(652.88 408.6) rotate(-90) scale(0.95 1)">feb-22</text>
<text transform="translate(669.63 408.6) rotate(-90) scale(0.95 1)">mar-22</text>
<text transform="translate(686.37 408.6) rotate(-90) scale(0.95 1)">abr-22</text>
<text transform="translate(703.12 408.6) rotate(-90) scale(0.95 1)">may-22</text>
<text transform="translate(719.86 408.6) rotate(-90) scale(0.95 1)">jun-22</text>
<text transform="translate(736.61 408.6) rotate(-90) scale(0.95 1)">jul-22</text>
<text transform="translate(753.35 408.6) rotate(-90) scale(0.95 1)">ago-22</text>
<text transform="translate(770.10 408.6) rotate(-90) scale(0.95 1)">sep-22</text>
<text transform="translate(786.84 408.6) rotate(-90) scale(0.95 1)">oct-22</text>
<text transform="translate(803.59 408.6) rotate(-90) scale(0.95 1)">nov-22</text>
<text transform="translate(820.33 408.6) rotate(-90) scale(0.95 1)">dic-22</text>
<text transform="translate(837.08 408.6) rotate(-90) scale(0.95 1)">ene-23</text>
<text transform="translate(853.82 408.6) rotate(-90) scale(0.95 1)">feb-23</text>
<text transform="translate(870.57 408.6) rotate(-90) scale(0.95 1)">mar-23</text>
<text transform="translate(887.31 408.6) rotate(-90) scale(0.95 1)">abr-23</text>
<text transform="translate(904.06 408.6) rotate(-90) scale(0.95 1)">may-23</text>
<text transform="translate(920.80 408.6) rotate(-90) scale(0.95 1)">jun-23</text>
<text transform="translate(937.55 408.6) rotate(-90) scale(0.95 1)">jul-23</text>
<text transform="translate(954.29 408.6) rotate(-90) scale(0.95 1)">ago-23</text>
<text transform="translate(971.04 408.6) rotate(-90) scale(0.95 1)">sep-23</text>
<text transform="translate(987.78 408.6) rotate(-90) scale(0.95 1)">oct-23</text>
<text transform="translate(1004.53 408.6) rotate(-90) scale(0.95 1)">nov-23</text>
<text transform="translate(1021.27 408.6) rotate(-90) scale(0.95 1)">dic-23</text>
</g>
<rect x="37.6" y="296.6" width="152.7" height="54.6" fill="#f8cbad" stroke="#1a0d05" stroke-width="1"/>
<text x="74.06" y="338.60" font-family="Liberation Sans, sans-serif" font-weight="bold" font-size="41.86" letter-spacing="2.09" textLength="82.53" lengthAdjust="spacingAndGlyphs" fill="#000" filter="url(#f7)">36,661</text>
<rect x="236.6" y="296.6" width="152.4" height="54.6" fill="#f4b183" stroke="#1a0d05" stroke-width="1"/>
<text x="269.56" y="338.60" font-family="Liberation Sans, sans-serif" font-weight="bold" font-size="41.86" letter-spacing="2.09" textLength="87.53" lengthAdjust="spacingAndGlyphs" fill="#000" filter="url(#f7)">36,773</text>
<rect x="439.5" y="296.6" width="152.4" height="54.6" fill="#ed7d31" stroke="#2a1203" stroke-width="1"/>
<text x="472.06" y="338.60" font-family="Liberation Sans, sans-serif" font-weight="bold" font-size="41.86" letter-spacing="2.09" textLength="89.53" lengthAdjust="spacingAndGlyphs" fill="#000" filter="url(#f7)">35,700</text>
<rect x="639.5" y="296.6" width="152.4" height="54.6" fill="#843c0c" stroke="#3d1b05" stroke-width="1"/>
<text x="671.56" y="339.40" font-family="Liberation Sans, sans-serif" font-weight="bold" font-size="43.00" letter-spacing="2.15" textLength="90.87" lengthAdjust="spacingAndGlyphs" fill="#fbe5d6" filter="url(#f8)">33,287</text>
<rect x="830.5" y="296.6" width="180.5" height="54.6" fill="#c00000" stroke="#6a0000" stroke-width="1"/>
<text x="858.69" y="344.20" font-family="Liberation Sans, sans-serif" font-weight="bold" font-size="55.14" letter-spacing="2.76" textLength="126.13" lengthAdjust="spacingAndGlyphs" fill="#fff" filter="url(#f9)">26,079</text>
<rect x="1010.4" y="296.6" width="1.2" height="54.6" fill="#b55a3a"/>
<rect x="37.6" y="174.0" width="153.3" height="37.4" fill="#fbe5d6"/>
<text x="86.23" y="203.40" font-family="Liberation Sans, sans-serif" font-weight="bold" font-size="30.71" letter-spacing="1.54" textLength="57.79" lengthAdjust="spacingAndGlyphs" fill="#000" filter="url(#f10)">3,055</text>
<rect x="235.0" y="173.7" width="152.6" height="38.1" fill="#f4b183"/>
<text x="282.33" y="203.40" font-family="Liberation Sans, sans-serif" font-weight="bold" font-size="31.00" letter-spacing="1.55" textLength="57.79" lengthAdjust="spacingAndGlyphs" fill="#000" filter="url(#f11)">3,064</text>
<rect x="436.0" y="173.7" width="151.6" height="38.1" fill="#ed7d31"/>
<text x="483.33" y="203.40" font-family="Liberation Sans, sans-serif" font-weight="bold" font-size="30.71" letter-spacing="1.54" textLength="58.69" lengthAdjust="spacingAndGlyphs" fill="#000" filter="url(#f10)">2,975</text>
<rect x="637.6" y="177.2" width="152.4" height="37.1" fill="#843c0c"/>
<text x="684.32" y="207.50" font-family="Liberation Sans, sans-serif" font-weight="bold" font-size="31.86" letter-spacing="1.59" textLength="59.43" lengthAdjust="spacingAndGlyphs" fill="#fff" filter="url(#f12)">2,774</text>
<rect x="804.2" y="173.7" width="180.5" height="37.0" fill="#c00000"/>
<text x="866.33" y="203.40" font-family="Liberation Sans, sans-serif" font-weight="bold" font-size="31.00" letter-spacing="1.55" textLength="58.39" lengthAdjust="spacingAndGlyphs" fill="#fff" filter="url(#f11)">2,500</text>
<rect x="789.2" y="177.2" width="1.2" height="37.1" fill="#b8402a"/>
<rect x="190.0" y="174" width="0.9" height="37.4" fill="#f8cbad"/>
<rect x="41.2" y="476.2" width="151.8" height="35.8" fill="#fbe5d6"/>
<text x="101.03" y="504.70" font-family="Liberation Sans, sans-serif" font-weight="bold" font-size="30.14" letter-spacing="1.51" textLength="33.77" lengthAdjust="spacingAndGlyphs" fill="#000" filter="url(#f13)">100</text>
<rect x="238.0" y="473.3" width="153.2" height="37.9" fill="#f4b183"/>
<text x="300.33" y="501.70" font-family="Liberation Sans, sans-serif" font-weight="bold" font-size="30.29" letter-spacing="1.51" textLength="26.86" lengthAdjust="spacingAndGlyphs" fill="#000" filter="url(#f10)">101</text>
<rect x="450.0" y="474.2" width="151.2" height="37.8" fill="#ed7d31"/>
<text x="513.63" y="502.20" font-family="Liberation Sans, sans-serif" font-weight="bold" font-size="30.14" letter-spacing="1.51" textLength="27.37" lengthAdjust="spacingAndGlyphs" fill="#000" filter="url(#f13)">98</text>
<rect x="637.0" y="472.0" width="151.8" height="36.8" fill="#843c0c"/>
<text x="703.63" y="501.70" font-family="Liberation Sans, sans-serif" font-weight="bold" font-size="30.43" letter-spacing="1.52" textLength="19.87" lengthAdjust="spacingAndGlyphs" fill="#fff" filter="url(#f10)">91</text>
<rect x="804.2" y="472.0" width="180.8" height="36.8" fill="#c00000"/>
<text x="882.33" y="501.70" font-family="Liberation Sans, sans-serif" font-weight="bold" font-size="30.43" letter-spacing="1.52" textLength="26.67" lengthAdjust="spacingAndGlyphs" fill="#fff" filter="url(#f10)">83</text>
<rect x="788.0" y="472" width="1.2" height="36.8" fill="#b8402a"/>
</svg></body></html>
